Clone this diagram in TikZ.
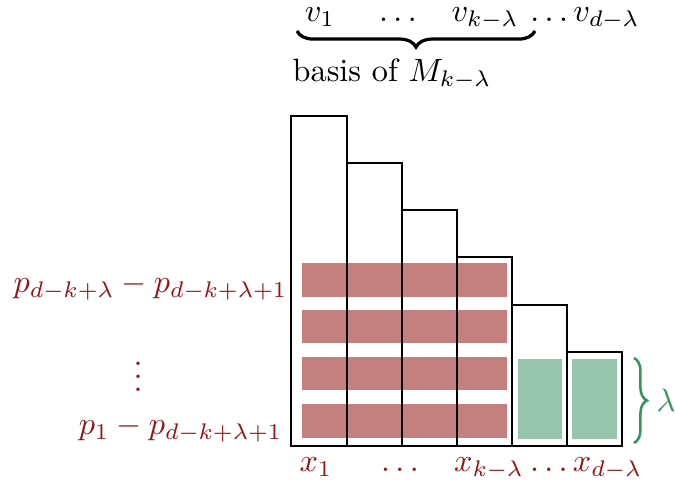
\documentclass[tikz,border=0pt]{standalone}
\usetikzlibrary{decorations.pathreplacing}
\definecolor{dred}{RGB}{150,20,20}
\definecolor{rfill}{RGB}{196,128,126}
\definecolor{dgreen}{RGB}{56,148,92}
\definecolor{gfill}{RGB}{151,196,172}
\begin{document}
\begin{tikzpicture}[x=0.31pt,y=-0.31pt,
  col/.style={draw=black,line width=0.9pt},
  rstrip/.style={fill=rfill,draw=none},
  gbox/.style={fill=gfill,draw=none},
  lbl/.style={inner sep=0pt,anchor=base},
  rlbl/.style={inner sep=0pt,anchor=base east,text=dred},
  brc/.style={decorate,decoration={brace,amplitude=5pt},line width=1pt}]
\useasboundingbox (0,0) rectangle (675,487);
% fills
\foreach \a/\b in {263/297,310/343,357/390,404/438}
  \fill[rstrip] (302,\a) rectangle (507,\b);
\fill[gbox] (518,359) rectangle (562,439);
\fill[gbox] (572,359) rectangle (617,439);
% columns
\draw[col] (291,446) rectangle (347,116);
\draw[col] (347,446) rectangle (402,163);
\draw[col] (402,446) rectangle (457,210);
\draw[col] (457,446) rectangle (512,257);
\draw[col] (512,446) rectangle (567,305);
\draw[col] (567,446) rectangle (622,352);
% top labels
\node[lbl] (v1) at (320,22) {$v_1$};
\node[lbl] (vd1) at (398,22) {$\dots$};
\node[lbl] (vk) at (485,22) {$v_{k-\lambda}$};
\node[lbl] (vd) at (585,22) {$\dots v_{d-\lambda}$};
\coordinate (bl) at (297,31);
\coordinate (br) at (535,31);
\draw[brc,decoration={mirror}] (bl) -- (br);
\node[lbl] (basis) at (392,82) {basis of $M_{k-\lambda}$};
% left labels
\node[rlbl] (p1) at (288,293) {$p_{d-k+\lambda}-p_{d-k+\lambda+1}$};
\node[inner sep=0pt,text=dred] (vdots) at (138,367) {$\vdots$};
\node[rlbl] (p2) at (283,435) {$p_{1}-p_{d-k+\lambda+1}$};
% bottom labels
\node[lbl,text=dred] (x1) at (316,472) {$x_1$};
\node[lbl,text=dred] (xd1) at (400,472) {$\dots$};
\node[lbl,text=dred] (xk) at (489,472) {$x_{k-\lambda}$};
\node[lbl,text=dred] (xd) at (586,472) {$\dots x_{d-\lambda}$};
% right brace
\coordinate (rt) at (634,358);
\coordinate (rb) at (634,443);
\draw[decorate,decoration={brace,amplitude=4pt},line width=0.8pt,dgreen] (rt) -- (rb);
\node[inner sep=0pt,anchor=west,text=dgreen] (lam) at (656,400) {$\lambda$};
\end{tikzpicture}
\end{document}
